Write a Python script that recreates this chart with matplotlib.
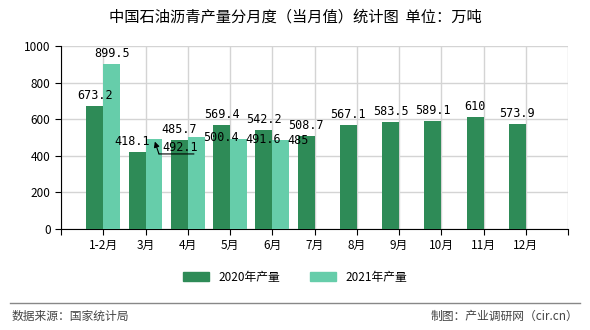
import matplotlib.pyplot as plt
import numpy as np
from matplotlib.lines import Line2D
from matplotlib.patches import Patch
from matplotlib.transforms import offset_copy

plt.rcParams['font.family'] = ['Noto Sans CJK SC', 'DejaVu Sans']

months = ['1-2月', '3月', '4月', '5月', '6月', '7月', '8月', '9月', '10月', '11月', '12月']
v2020 = [673.2, 418.1, 485.7, 569.4, 542.2, 508.7, 567.1, 583.5, 589.1, 610, 573.9]
v2021 = [899.5, 492.1, 500.4, 491.6, 485]
lab2020 = ['673.2', '418.1', '485.7', '569.4', '542.2', '508.7', '567.1', '583.5', '589.1', '610', '573.9']
lab2021 = ['899.5', '492.1', '500.4', '491.6', '485']

c2020 = '#2e8b57'
c2021 = '#66cdaa'

fig = plt.figure(figsize=(5.9, 3.3), dpi=100)
ax = fig.add_axes([61/590, 1-229/330, 507/590, 183/330])

x = np.arange(1, len(months)+1)
x21 = np.arange(1, len(v2021)+1)
w = 0.4
ax.bar(x - w/2, v2020, w, color=c2020, zorder=3)
ax.bar(x21 + w/2, v2021, w, color=c2021, zorder=3)

ax.set_xlim(0, 12)
ax.set_ylim(0, 1000)
ax.set_yticks(np.arange(0, 1001, 200))
ax.set_xticks(np.arange(0, 13))
ax.set_xticklabels([''] + months + [''], fontsize=8.5)
ax.tick_params(axis='y', labelsize=8.5, length=4)
ax.tick_params(axis='x', length=4)
ax.grid(True, color='#d4d4d4', linewidth=1, zorder=0)
for s in ['top', 'right']:
    ax.spines[s].set_visible(False)

mono = dict(fontsize=8.5, family='DejaVu Sans Mono', zorder=5)

# 2020 labels above bars
for i, (v, t) in enumerate(zip(v2020, lab2020)):
    dx = -5 if i == 1 else 0
    ax.annotate(t, (x[i] - w/2, v), xytext=(dx, 4), textcoords='offset pixels',
                ha='center', va='bottom', **mono)

# 2021 labels (pushed to the right like in the original)
def px(dx, dy):
    return offset_copy(ax.transData, fig=fig, x=dx*0.72, y=dy*0.72, units='points')

for i, (v, t) in enumerate(zip(v2021, lab2021)):
    top = (x21[i] + w/2, v)
    if i == 0:
        ax.annotate(t, top, xytext=(0, 4), textcoords='offset pixels',
                    ha='center', va='bottom', **mono)
    elif i == 1:
        ax.annotate(t, top, xytext=(8, -9), textcoords='offset pixels',
                    ha='left', va='center', **mono)
        # callout arrow + underline
        ax.annotate('', xy=top, xytext=(5, -15), textcoords='offset pixels',
                    arrowprops=dict(arrowstyle='-|>', color='black', lw=0.8,
                                    shrinkA=0, shrinkB=2, mutation_scale=8), zorder=6)
        ax.annotate('', xy=top, xycoords=px(40, -15), xytext=top, textcoords=px(5, -15),
                    arrowprops=dict(arrowstyle='-', color='black', lw=0.8,
                                    shrinkA=0, shrinkB=0), zorder=6)
    else:
        ax.annotate(t, top, xytext=(7, 0), textcoords='offset pixels',
                    ha='left', va='center', **mono)

fig.text(0.5, 1-17/330, '中国石油沥青产量分月度（当月值）统计图  单位：万吨',
         ha='center', va='center', fontsize=11)

handles = [Patch(color=c2020), Patch(color=c2021)]
fig.legend(handles, ['2020年产量', '2021年产量'], loc='center',
           bbox_to_anchor=(0.5, 1-277/330), ncol=2, frameon=False,
           fontsize=8.5, handlelength=2.2, handleheight=0.9, columnspacing=2.5)

fig.add_artist(Line2D([10/590, 580/590], [1-303/330, 1-303/330], color='#888888', lw=1))
fig.text(12/590, 1-316/330, '数据来源：国家统计局', ha='left', va='center',
         fontsize=8.5, color='#444444')
fig.text(578/590, 1-316/330, '制图：产业调研网（cir.cn）', ha='right', va='center',
         fontsize=8.5, color='#444444')

fig.savefig('out.png', dpi=100)
